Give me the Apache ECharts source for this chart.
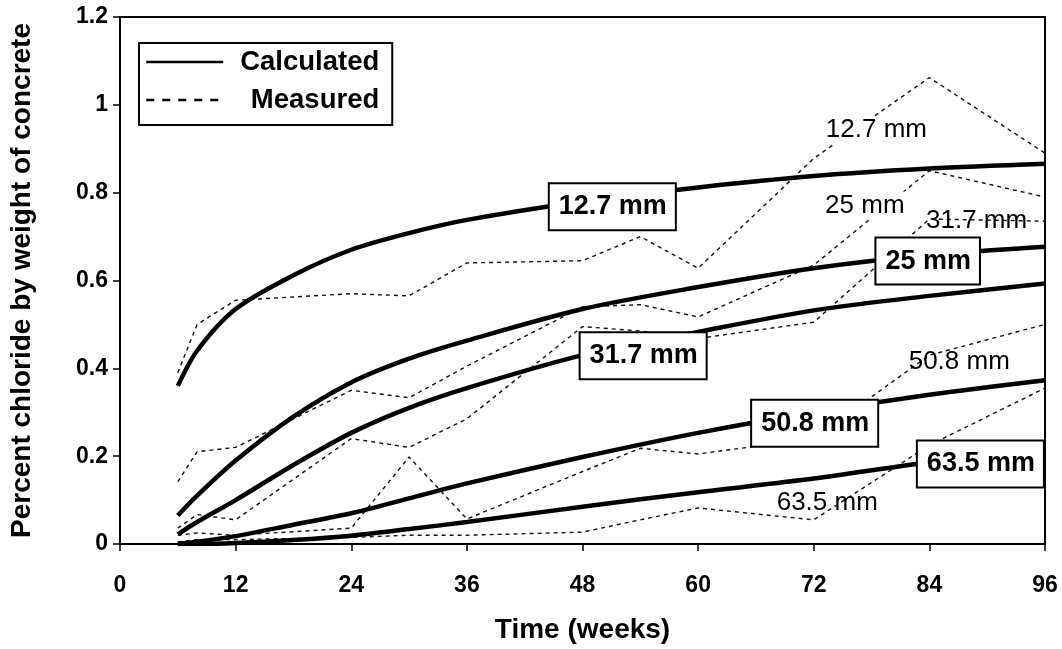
<!DOCTYPE html>
<html>
<head>
<meta charset="utf-8">
<script src="https://cdn.jsdelivr.net/npm/echarts@6/dist/echarts.min.js"></script>
<style>
  html, body { margin: 0; padding: 0; background: #fff; }
  #chart { width: 1062px; height: 649px; }
</style>
</head>
<body>
<div id="chart"></div>
<script>
// Chloride profiles at five depths: calculated curves vs. measured values
const depths = ['12.7 mm', '25 mm', '31.7 mm', '50.8 mm', '63.5 mm'];

const weeksCalculated = [6, 8, 12, 18, 24, 30, 36, 48, 60, 72, 84, 96];
const calculated127 = [0.36, 0.44, 0.535, 0.612, 0.67, 0.708, 0.738, 0.78, 0.812, 0.838, 0.855, 0.866];
const calculated25  = [0.065, 0.11, 0.19, 0.29, 0.368, 0.422, 0.463, 0.535, 0.585, 0.628, 0.658, 0.677];
const calculated317 = [0.022, 0.05, 0.10, 0.18, 0.253, 0.31, 0.355, 0.43, 0.483, 0.532, 0.565, 0.593];
const calculated508 = [0.0, 0.005, 0.018, 0.044, 0.07, 0.104, 0.138, 0.198, 0.253, 0.30, 0.34, 0.373];
const calculated635 = [0.0, 0.0, 0.002, 0.009, 0.019, 0.034, 0.05, 0.085, 0.118, 0.149, 0.186, 0.215];

const weeksMeasured = [6, 8, 12, 24, 30, 36, 48, 54, 60, 72, 84, 96];
const measured127 = [0.39, 0.50, 0.555, 0.57, 0.565, 0.64, 0.645, 0.70, 0.628, 0.878, 1.062, 0.89];
const measured25  = [0.142, 0.21, 0.22, 0.35, 0.333, 0.405, 0.54, 0.545, 0.517, 0.635, 0.85, 0.79];
const measured317 = [0.036, 0.067, 0.055, 0.24, 0.22, 0.285, 0.495, 0.485, 0.468, 0.505, 0.74, 0.735];
const measured508 = [0.02, 0.025, 0.02, 0.036, 0.198, 0.057, 0.165, 0.218, 0.205, 0.24, 0.43, 0.50];
const measured635 = [0.005, 0.01, 0.01, 0.015, 0.02, 0.02, 0.027, 0.055, 0.082, 0.055, 0.225, 0.355];

const xTicks = [0, 12, 24, 36, 48, 60, 72, 84, 96];

const calculatedSets = [calculated127, calculated25, calculated317, calculated508, calculated635];
const measuredSets = [measured127, measured25, measured317, measured508, measured635];

// Annotation placement (week where each boxed label starts on its curve;
// week/value centre of each plain label next to its measured line)
const boxLabelWeek = [44.6, 78.5, 47.8, 65.6, 82.8];
const plainLabelAt = [[78.5, 0.942], [77.3, 0.771], [88.9, 0.737], [87.1, 0.414], [73.4, 0.093]];
const plainLabelBacked = [true, true, false, false, false];

const FONT = '"Liberation Sans", Arial, Helvetica, sans-serif';
const HIDDEN = { color: 'rgba(0,0,0,0)', borderColor: 'rgba(0,0,0,0)', borderWidth: 0, opacity: 0 };

function pairs(xs, ys) { return xs.map((x, i) => [x, ys[i]]); }

function valueAt(xs, ys, w) {
  for (let i = 0; i < xs.length - 1; i++) {
    if (w >= xs[i] && w <= xs[i + 1]) {
      const t = (w - xs[i]) / (xs[i + 1] - xs[i]);
      return ys[i] + t * (ys[i + 1] - ys[i]);
    }
  }
  return ys[ys.length - 1];
}

const series = [];
depths.forEach((depth, i) => {
  series.push({
    name: 'Calculated',
    type: 'line',
    data: pairs(weeksCalculated, calculatedSets[i]),
    smooth: 0.3,
    symbol: 'none',
    z: 3,
    lineStyle: { color: '#000', width: 4.5 },
    markPoint: {
      symbol: 'circle',
      symbolSize: 0.1,
      itemStyle: { color: 'rgba(0,0,0,0)' },
      silent: true,
      data: [{
        name: depth,
        coord: [boxLabelWeek[i], valueAt(weeksCalculated, calculatedSets[i], boxLabelWeek[i])]
      }],
      label: {
        show: true,
        position: 'right',
        distance: 0,
        formatter: depth,
        color: '#000',
        fontFamily: FONT,
        fontWeight: 'bold',
        fontSize: 27,
        lineHeight: 28,
        backgroundColor: '#fff',
        borderColor: '#000',
        borderWidth: 2,
        padding: [9, 8, 8, 9]
      }
    }
  });
  series.push({
    name: 'Measured',
    type: 'line',
    data: pairs(weeksMeasured, measuredSets[i]),
    symbol: 'none',
    z: 2,
    lineStyle: { color: '#111', width: 1.4, type: [4, 4] },
    markPoint: {
      symbol: 'circle',
      symbolSize: 0.1,
      itemStyle: { color: 'rgba(0,0,0,0)' },
      silent: true,
      data: [{ name: depth, coord: plainLabelAt[i] }],
      label: {
        show: true,
        position: 'inside',
        formatter: depth,
        color: '#000',
        fontFamily: FONT,
        fontSize: 26,
        backgroundColor: plainLabelBacked[i] ? '#fff' : 'transparent',
        padding: [1, 1]
      }
    }
  });
});

const chart = echarts.init(document.getElementById('chart'), null, { renderer: 'canvas' });
chart.setOption({
  animation: false,
  backgroundColor: '#fff',
  grid: {
    left: 117, right: 17, top: 17, bottom: 103,
    show: true, borderColor: '#000', borderWidth: 2, backgroundColor: 'transparent'
  },
  legend: {
    left: 139, top: 43,
    orient: 'vertical',
    selectedMode: false,
    backgroundColor: '#fff',
    borderColor: '#000',
    borderWidth: 2,
    padding: [5, 13, 11, 6],
    itemGap: 10,
    itemWidth: 77,
    itemHeight: 22,
    itemStyle: HIDDEN,
    data: [
      { name: 'Calculated', itemStyle: HIDDEN, lineStyle: { width: 2.5, type: 'solid', color: '#000' } },
      { name: 'Measured', itemStyle: HIDDEN, lineStyle: { width: 2.5, type: [8, 8], color: '#000' } }
    ],
    formatter: n => '{t|' + n + '}',
    textStyle: {
      rich: {
        t: { width: 151, align: 'right', fontFamily: FONT, fontWeight: 'bold', fontSize: 27.5, lineHeight: 30, color: '#000' }
      }
    }
  },
  xAxis: {
    type: 'value',
    min: xTicks[0],
    max: xTicks[xTicks.length - 1],
    interval: 12,
    name: 'Time (weeks)',
    nameLocation: 'middle',
    nameGap: 72,
    nameTextStyle: { fontFamily: FONT, fontWeight: 'bold', fontSize: 28, color: '#000' },
    axisLine: { lineStyle: { color: '#000', width: 2 } },
    axisTick: { show: true, length: 7, lineStyle: { color: '#000', width: 1.5 } },
    axisLabel: { margin: 30, fontFamily: FONT, fontWeight: 'bold', fontSize: 23, color: '#000' },
    splitLine: { show: false }
  },
  yAxis: {
    type: 'value',
    min: 0,
    max: 1.2,
    interval: 0.2,
    name: 'Percent chloride by weight of concrete',
    nameLocation: 'middle',
    nameGap: 84,
    nameTextStyle: { fontFamily: FONT, fontWeight: 'bold', fontSize: 28, color: '#000' },
    axisLine: { show: true, lineStyle: { color: '#000', width: 2 } },
    axisTick: { show: true, length: 7, lineStyle: { color: '#000', width: 1.5 } },
    axisLabel: { margin: 12, fontFamily: FONT, fontWeight: 'bold', fontSize: 23, color: '#000' },
    splitLine: { show: false }
  },
  series: series
});
</script>
</body>
</html>
